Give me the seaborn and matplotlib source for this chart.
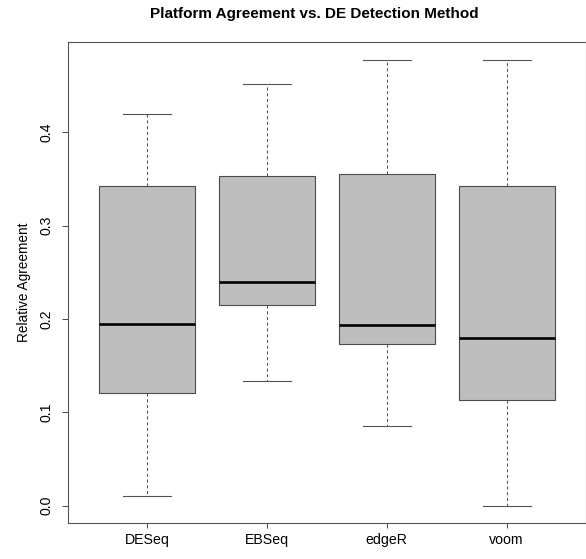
import numpy as np
import pandas as pd
import matplotlib
matplotlib.use("Agg")
import matplotlib.pyplot as plt
import seaborn as sns

# five-number summaries (min, Q1, median, Q3, max)
methods = ["DESeq", "EBSeq", "edgeR", "voom"]
deseq = [0.0107, 0.1208, 0.1950, 0.3430, 0.4200]
ebseq = [0.1337, 0.2151, 0.2398, 0.3537, 0.4520]
edger = [0.0854, 0.1737, 0.1937, 0.3558, 0.4780]
voom = [0.0000, 0.1133, 0.1800, 0.3430, 0.4780]
yticks = [0.0, 0.1, 0.2, 0.3, 0.4]

df = pd.DataFrame({
    "method": np.repeat(methods, 5),
    "agreement": deseq + ebseq + edger + voom,
})

plt.rcParams['font.family'] = ['Liberation Sans', 'DejaVu Sans']

fig = plt.figure(figsize=(5.86, 5.59), dpi=100, facecolor='w')
ax = fig.add_axes([0.1155, 0.0639, 0.884, 0.8615])

edge = '#4a4a4a'
sns.boxplot(data=df, x="method", y="agreement", order=methods, ax=ax,
            whis=(0, 100), width=0.8, color='#BEBEBE', linecolor=edge,
            saturation=1, showfliers=False,
            boxprops=dict(linewidth=0.8),
            medianprops=dict(color='black', linewidth=1.9),
            whiskerprops=dict(linestyle=(0, (3, 2.5)), linewidth=0.75, color='#555555'),
            capprops=dict(linestyle='-', linewidth=0.8, color='#555555'))

ax.set_xlim(-0.66, 3.66)
ax.set_ylim(-0.0189, 0.4973)
ax.set_yticks(yticks)
ax.set_yticklabels([f"{t:.1f}" for t in yticks], rotation=90, va='center')
ax.set_xlabel("")
ax.set_ylabel("Relative Agreement", fontsize=9.8, labelpad=6)
ax.tick_params(axis='y', length=4.3, width=0.7, labelsize=10.2, pad=6, colors='#444444', labelcolor='black')
ax.tick_params(axis='x', length=3.6, width=0.7, labelsize=10.2, pad=3.5, colors='#444444', labelcolor='black')
for s in ax.spines.values():
    s.set_linewidth(0.8)
    s.set_color('#555555')

fig.text(314 / 586, 1 - 14 / 559, "Platform Agreement vs. DE Detection Method",
         ha='center', va='center', fontsize=11, fontweight='bold')

fig.savefig("out.png", dpi=100)
